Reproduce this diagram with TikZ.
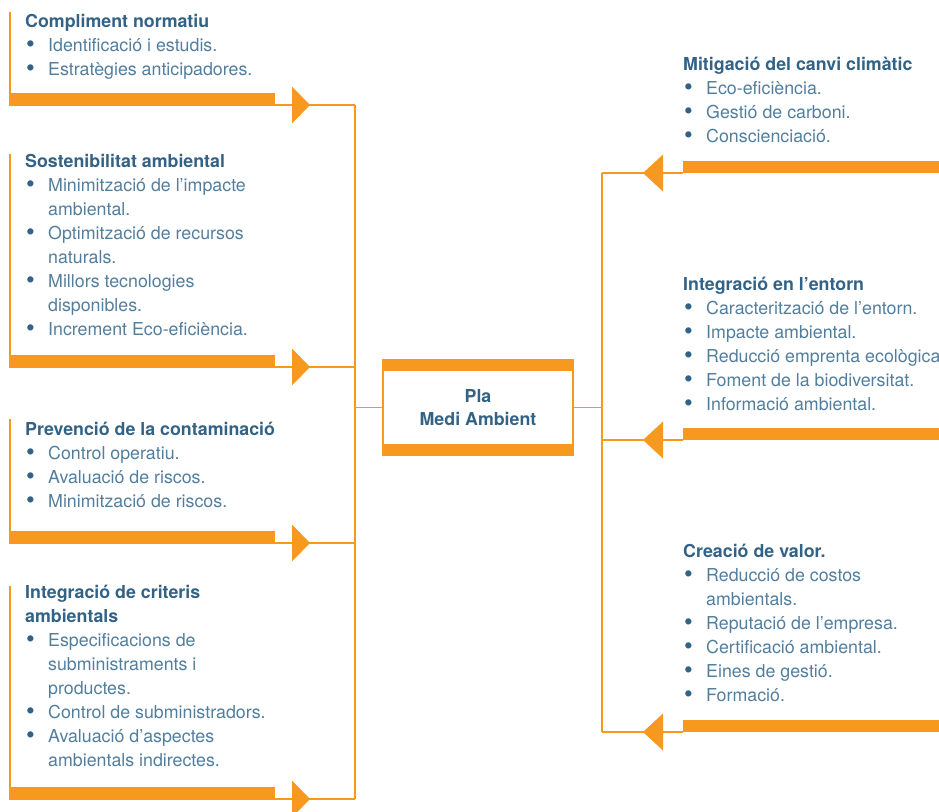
\documentclass[tikz,border=0pt]{standalone}
\usepackage{fontspec}
\setmainfont{TeX Gyre Heros}
\usepackage{xcolor}
\usepackage{tikz}
\usetikzlibrary{calc,positioning}
\definecolor{planorange}{RGB}{247,153,31}
\definecolor{titleblue}{RGB}{50,98,134}
\definecolor{itemblue}{RGB}{82,126,158}
\newcommand\ttl[1]{{\bfseries\color{titleblue}#1}}
\newcommand\itm[1]{\hspace*{1pt}\makebox[22pt][l]{\color{titleblue}\raisebox{-1.8pt}{\scalebox{1.4}{\textbullet}}}#1}
\newcommand\cnt[1]{\hspace*{23pt}#1}

\begin{document}
\begin{tikzpicture}[x=1pt,y=-1pt,
  thinln/.style={planorange,line width=1.3pt},
  % placed at the baseline of the last line
  boxtext/.style={anchor=base west,inner sep=0pt,align=left,text=itemblue,
    font=\fontsize{17.8}{24}\selectfont}]
  \useasboundingbox (0,0) rectangle (939,811);
  \clip (0,0) rectangle (939,811);

  % left column
  \node[boxtext] (cn) at (25,75) {\ttl{Compliment normatiu}\\
    \itm{Identificació i estudis.}\\
    \itm{Estratègies anticipadores.}};
  \node[boxtext] (sa) at (25,335) {\ttl{Sostenibilitat ambiental}\\
    \itm{Minimització de l{\char"27}impacte}\\ \cnt{ambiental.}\\
    \itm{Optimització de recursos}\\ \cnt{naturals.}\\
    \itm{Millors tecnologies}\\ \cnt{disponibles.}\\
    \itm{Increment Eco-eficiència.}};
  \node[boxtext] (pc) at (25,507) {\ttl{Prevenció de la contaminació}\\
    \itm{Control operatiu.}\\
    \itm{Avaluació de riscos.}\\
    \itm{Minimització de riscos.}};
  \node[boxtext] (ic) at (25,766) {\ttl{Integració de criteris}\\ \ttl{ambientals}\\
    \itm{Especificacions de}\\ \cnt{subministraments i}\\ \cnt{productes.}\\
    \itm{Control de subministradors.}\\
    \itm{Avaluació d’aspectes}\\ \cnt{ambientals indirectes.}};

  \foreach \nm/\yt/\yb in {cn/12/105, sa/154/367, pc/419/543, ic/586/799}{
    \coordinate (\nm-top) at (10,\yt);
    \coordinate (\nm-end) at (275,\yb);
    \coordinate (\nm-trunk) at (355,\yb);
    \draw[thinln] (\nm-top) |- (\nm-end) -- (\nm-trunk);
    \fill[planorange] (9,\yb-12) rectangle (\nm-end);
    \fill[planorange] ($(\nm-end)+(17,-18.5)$) -- ++(18,18.5) -- ++(-18,18.5) -- cycle;
  }

  % centre
  \node[draw=planorange,line width=1.3pt,minimum width=190pt,minimum height=95pt,
    inner sep=0pt,align=center,text=titleblue,
    font=\bfseries\fontsize{17.8}{23}\selectfont] (pla) at (478,407.5) {Pla\\Medi Ambient};
  \fill[planorange] (pla.north west) rectangle ($(pla.north east)+(0,12)$);
  \fill[planorange] ($(pla.south west)+(0,-12)$) rectangle (pla.south east);

  % right column
  \node[boxtext] (mc) at (683,142) {\ttl{Mitigació del canvi climàtic}\\
    \itm{Eco-eficiència.}\\
    \itm{Gestió de carboni.}\\
    \itm{Conscienciació.}};
  \node[boxtext] (ie) at (683,410) {\ttl{Integració en l’entorn}\\
    \itm{Caracterització de l’entorn.}\\
    \itm{Impacte ambiental.}\\
    \itm{Reducció emprenta ecològica}\\
    \itm{Foment de la biodiversitat.}\\
    \itm{Informació ambiental.}};
  \node[boxtext] (cv) at (683,701) {\ttl{Creació de valor.}\\
    \itm{Reducció de costos}\\ \cnt{ambientals.}\\
    \itm{Reputació de l’empresa.}\\
    \itm{Certificació ambiental.}\\
    \itm{Eines de gestió.}\\
    \itm{Formació.}};

  \foreach \nm/\yb in {mc/173, ie/440, cv/732}{
    \coordinate (\nm-end) at (683,\yb);
    \coordinate (\nm-trunk) at (602,\yb);
    \draw[thinln] (\nm-end) -- (\nm-trunk);
    \fill[planorange] (\nm-end) rectangle (940,\yb-12);
    \fill[planorange] ($(\nm-end)+(-20,-18.5)$) -- ++(-20,18.5) -- ++(20,18.5) -- cycle;
  }

  % trunks
  \draw[thinln] (cn-trunk) -- (ic-trunk);
  \draw[thinln] (mc-trunk) -- (cv-trunk);
  \draw[thinln] (pla.west) -- (pla.west -| cn-trunk);
  \draw[thinln] (pla.east) -- (pla.east -| mc-trunk);
\end{tikzpicture}
\end{document}
